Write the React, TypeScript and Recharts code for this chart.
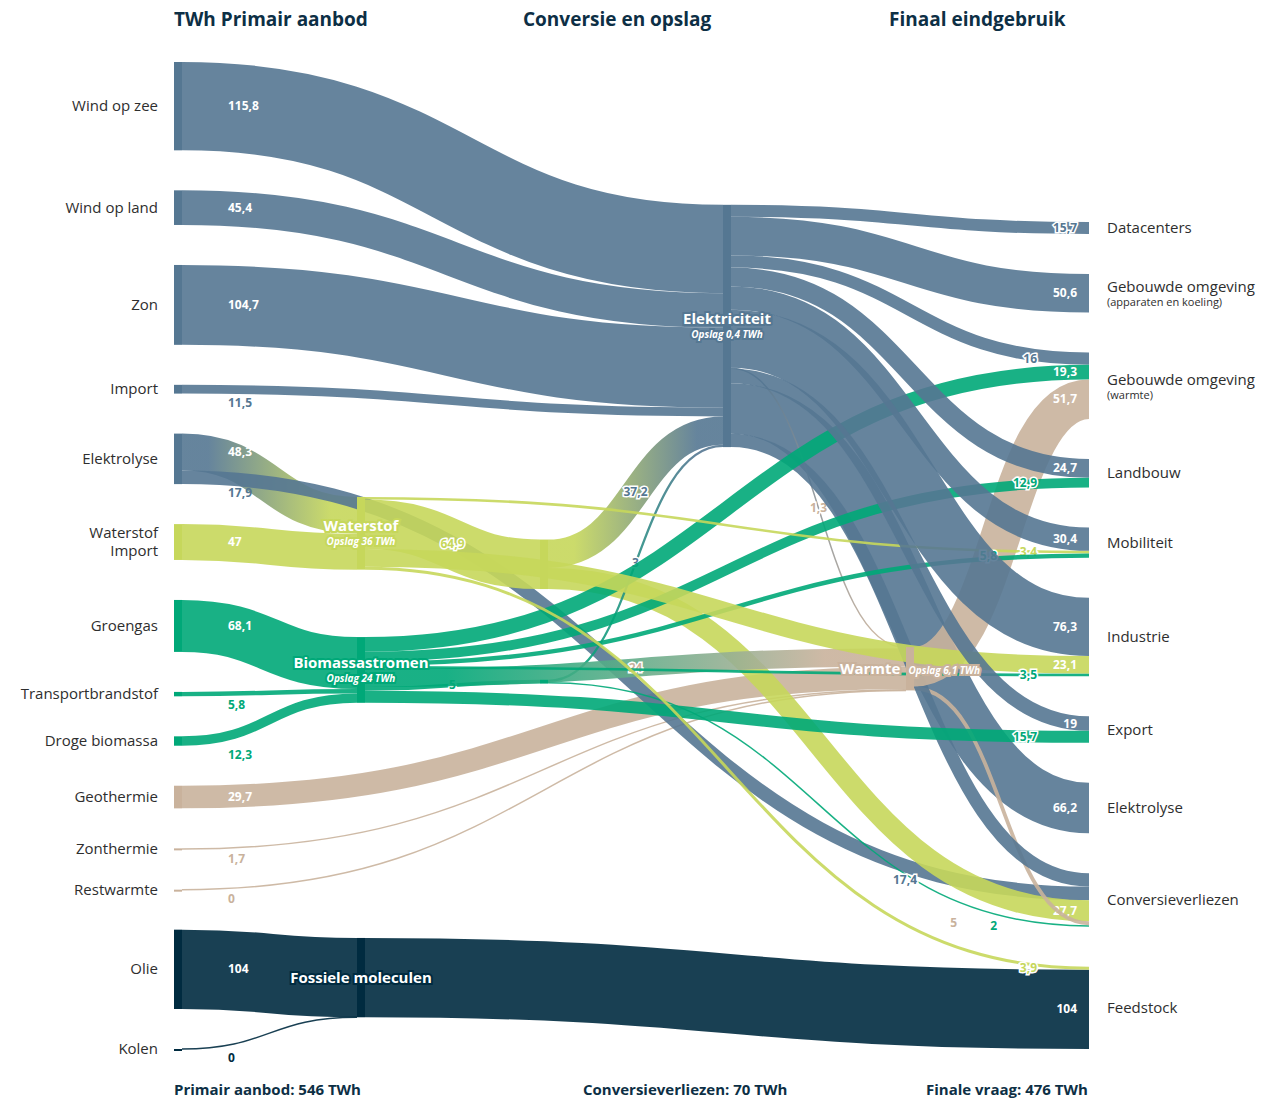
import React from "react";
import { Sankey } from "recharts";

const BLUE = "#557792";
const LIME = "#c6d75b";
const GREEN = "#00a878";
const TAN = "#c9b29c";
const NAVY = "#002b40";
const INK = "#0d2f45";
const TEXT = "#2e2e2e";
const FONT = "'Open Sans', 'DejaVu Sans', sans-serif";

// kolom 1: primair aanbod (Elektrolyse (uit) is the hydrogen side of the electrolysis loop)
const primaryNodes = [
  "Wind op zee",
  "Wind op land",
  "Zon",
  "Import",
  "Elektrolyse (uit)",
  "Waterstof\nImport",
  "Groengas",
  "Transportbrandstof",
  "Droge biomassa",
  "Geothermie",
  "Zonthermie",
  "Restwarmte",
  "Olie",
  "Kolen",
];

// kolom 2: conversie en opslag
const conversionNodes = [
  "Waterstof",
  "Biomassastromen",
  "Fossiele moleculen",
  "Waterstofcentrale",
  "Biomassacentrale",
  "Elektriciteit",
  "Warmte",
];

// kolom 3: finaal eindgebruik
const finalNodes = [
  "Datacenters",
  "Gebouwde omgeving\n(apparaten en koeling)",
  "Gebouwde omgeving\n(warmte)",
  "Landbouw",
  "Mobiliteit",
  "Industrie",
  "Export",
  "Elektrolyse (in)",
  "Conversieverliezen",
  "Feedstock",
];

const primaryFlows: [string, string, number][] = [
  ["Wind op zee", "Elektriciteit", 115.8],
  ["Wind op land", "Elektriciteit", 45.4],
  ["Zon", "Elektriciteit", 104.7],
  ["Import", "Elektriciteit", 11.5],
  ["Waterstof\nImport", "Waterstof", 47],
  ["Groengas", "Biomassastromen", 68.1],
  ["Transportbrandstof", "Biomassastromen", 5.8],
  ["Droge biomassa", "Biomassastromen", 12.3],
  ["Geothermie", "Warmte", 29.7],
  ["Zonthermie", "Warmte", 1.7],
  ["Restwarmte", "Warmte", 0],
  ["Olie", "Fossiele moleculen", 104],
  ["Kolen", "Fossiele moleculen", 0],
];

const conversionFlows: [string, string, number][] = [
  ["Elektriciteit", "Elektrolyse (in)", 66.2],
  ["Elektrolyse (uit)", "Waterstof", 48.3],
  ["Elektrolyse (uit)", "Conversieverliezen", 17.9],
  ["Waterstof", "Waterstofcentrale", 64.9],
  ["Waterstofcentrale", "Elektriciteit", 37.2],
  ["Waterstofcentrale", "Conversieverliezen", 27.7],
  ["Biomassastromen", "Biomassacentrale", 5],
  ["Biomassacentrale", "Elektriciteit", 3],
  ["Biomassacentrale", "Conversieverliezen", 2],
  ["Biomassastromen", "Warmte", 24],
  ["Elektriciteit", "Warmte", 1.3],
  ["Warmte", "Conversieverliezen", 5],
  ["Elektriciteit", "Conversieverliezen", 17.4],
];

const finalFlows: [string, string, number][] = [
  ["Elektriciteit", "Datacenters", 15.7],
  ["Elektriciteit", "Gebouwde omgeving\n(apparaten en koeling)", 50.6],
  ["Elektriciteit", "Gebouwde omgeving\n(warmte)", 16],
  ["Biomassastromen", "Gebouwde omgeving\n(warmte)", 19.3],
  ["Warmte", "Gebouwde omgeving\n(warmte)", 51.7],
  ["Elektriciteit", "Landbouw", 24.7],
  ["Biomassastromen", "Landbouw", 12.9],
  ["Waterstof", "Mobiliteit", 3.4],
  ["Elektriciteit", "Mobiliteit", 30.4],
  ["Biomassastromen", "Mobiliteit", 5.8],
  ["Elektriciteit", "Industrie", 76.3],
  ["Waterstof", "Industrie", 23.1],
  ["Biomassastromen", "Industrie", 3.5],
  ["Elektriciteit", "Export", 19],
  ["Biomassastromen", "Export", 15.7],
  ["Fossiele moleculen", "Feedstock", 104],
  ["Waterstof", "Feedstock", 3.9],
];

// opslag per drager, TWh
const storageTWh: Record<string, number> = {
  Elektriciteit: 0.4,
  Waterstof: 36,
  Biomassastromen: 24,
  Warmte: 6.1,
};

const hubNodes = ["Elektriciteit", "Waterstof", "Biomassastromen", "Warmte", "Fossiele moleculen"];

const CARRIER: Record<string, string> = {
  "Wind op zee": BLUE,
  "Wind op land": BLUE,
  Zon: BLUE,
  Import: BLUE,
  Elektriciteit: BLUE,
  "Elektrolyse (in)": BLUE,
  "Elektrolyse (uit)": BLUE,
  "Waterstof\nImport": LIME,
  Waterstof: LIME,
  Waterstofcentrale: LIME,
  Groengas: GREEN,
  Transportbrandstof: GREEN,
  "Droge biomassa": GREEN,
  Biomassastromen: GREEN,
  Biomassacentrale: GREEN,
  Geothermie: TAN,
  Zonthermie: TAN,
  Restwarmte: TAN,
  Warmte: TAN,
  Olie: NAVY,
  Kolen: NAVY,
  "Fossiele moleculen": NAVY,
};

const allNodes = [...primaryNodes, ...conversionNodes, ...finalNodes];
const toLink = ([s, t, v]: [string, string, number]) => ({
  source: allNodes.indexOf(s),
  target: allNodes.indexOf(t),
  value: v,
});
const data = {
  nodes: allNodes.map((name) => ({ name })),
  links: [...primaryFlows, ...conversionFlows, ...finalFlows].map(toLink),
};

const THICK = 14;
const fmt = (v: number) => String(Math.round(v * 10) / 10).replace(".", ",");
const labelOf = (name: string) => name.replace(/ \((in|uit)\)$/, "");
const sum = (rows: [string, string, number][]) => Math.round(rows.reduce((a, r) => a + r[2], 0));

const totalPrimary = sum(primaryFlows);
const totalLosses = sum([...conversionFlows, ...finalFlows].filter((r) => r[1] === "Conversieverliezen"));
const totalFinal = sum(finalFlows);

function FlowNode(props: any) {
  const { x, y, width, height, payload } = props;
  const name: string = payload.name;
  const color = CARRIER[name] ?? "#8d99a4";
  const lines = labelOf(name).split("\n");
  const cy = y + height / 2;

  if (primaryNodes.includes(name)) {
    return (
      <g>
        <rect x={x} y={y} width={width} height={Math.max(height, 2)} fill={color} />
        <text x={x - 16} y={cy - (lines.length - 1) * 9 + 5} textAnchor="end" fontSize={15} fill={TEXT} fontFamily={FONT}>
          {lines.map((l, i) => (
            <tspan key={i} x={x - 16} dy={i ? 18 : 0}>
              {l}
            </tspan>
          ))}
        </text>
      </g>
    );
  }

  if (finalNodes.includes(name)) {
    return (
      <g>
        <text x={x + width + 10} y={cy - (lines.length - 1) * 6 + 5} fontSize={15} fill={TEXT} fontFamily={FONT}>
          <tspan>{lines[0]}</tspan>
          {lines[1] && (
            <tspan x={x + width + 10} dy={14} fontSize={11}>
              {lines[1]}
            </tspan>
          )}
        </text>
      </g>
    );
  }

  const isHub = hubNodes.includes(name);
  const hasStore = storageTWh[name] !== undefined;
  // Warmte is a thin band: its storage note goes on the same line
  const inline = name === "Warmte";
  return (
    <g>
      <rect x={x} y={y} width={width} height={Math.max(height, 2)} fill={color} />
      {isHub && (
        <text
          x={x + width / 2}
          y={cy + (hasStore && !inline ? -2 : 5)}
          textAnchor="middle"
          fontFamily={FONT}
          fill="#fff"
          stroke={color}
          strokeWidth={4}
          paintOrder="stroke"
          fontWeight={700}
        >
          <tspan fontSize={15}>{name}</tspan>
          {hasStore &&
            (inline ? (
              <tspan dx={8} fontSize={10} fontStyle="italic">
                {`Opslag ${fmt(storageTWh[name])} TWh`}
              </tspan>
            ) : (
              <tspan x={x + width / 2} dy={14} fontSize={10} fontStyle="italic">
                {`Opslag ${fmt(storageTWh[name])} TWh`}
              </tspan>
            ))}
        </text>
      )}
    </g>
  );
}

function FlowLink(props: any) {
  const { sourceX, sourceY, sourceControlX, targetX, targetY, targetControlX, linkWidth, index, payload } = props;
  const s: string = payload.source.name;
  const t: string = payload.target.name;
  const c1 = CARRIER[s];
  const c2 = CARRIER[t];
  const blend = c2 && c2 !== c1;
  const gid = `flow-grad-${index}`;
  const d = `M${sourceX},${sourceY} C${sourceControlX},${sourceY} ${targetControlX},${targetY} ${targetX},${targetY}`;
  const thick = linkWidth >= THICK;
  const value = fmt(payload.value);
  const halo = { stroke: "#fff", strokeWidth: 3, paintOrder: "stroke" as const };

  let label: React.ReactNode;
  if (primaryNodes.includes(s)) {
    label = (
      <text
        x={sourceX + 46}
        y={thick ? sourceY + 4 : sourceY + linkWidth / 2 + 13}
        fontSize={12}
        fontWeight={700}
        fontFamily={FONT}
        fill={thick ? "#fff" : c1}
      >
        {value}
      </text>
    );
  } else if (finalNodes.includes(t)) {
    // thin bands that end in the same node get their numbers side by side
    const ky = payload.value > 0 ? linkWidth / payload.value : 0;
    const target = data.links[index].target;
    const siblings = data.links.map((l, k) => ({ ...l, k })).filter((l) => l.target === target);
    const thinSiblings = siblings.filter((l) => l.value * ky < THICK);
    const hasThick = siblings.some((l) => l.value * ky >= THICK);
    const j = Math.max(0, thinSiblings.findIndex((l) => l.k === index)) + (hasThick ? 1 : 0);
    label = (
      <text
        x={targetX - 12 - (thick ? 0 : j * 40)}
        y={targetY + 4}
        textAnchor="end"
        fontSize={12}
        fontWeight={700}
        fontFamily={FONT}
        fill={thick ? "#fff" : c1}
        {...(thick ? {} : halo)}
      >
        {value}
      </text>
    );
  } else {
    // flows between carriers: number in the middle of the band
    label = (
      <text
        x={(sourceX + targetX) / 2}
        y={(sourceY + targetY) / 2 + 4}
        textAnchor="middle"
        fontSize={12}
        fontWeight={700}
        fontFamily={FONT}
        fill={c2 ?? c1}
        {...halo}
      >
        {value}
      </text>
    );
  }

  return (
    <g>
      {blend && (
        <defs>
          <linearGradient id={gid} gradientUnits="userSpaceOnUse" x1={sourceX} y1={0} x2={targetX} y2={0}>
            <stop offset="0.15" stopColor={c1} />
            <stop offset="0.85" stopColor={c2} />
          </linearGradient>
        </defs>
      )}
      <path d={d} fill="none" stroke={blend ? `url(#${gid})` : c1} strokeWidth={Math.max(linkWidth, 1.5)} strokeOpacity={0.9} />
      {label}
    </g>
  );
}

const headStyle: React.CSSProperties = {
  position: "absolute",
  fontFamily: FONT,
  fontWeight: 700,
  color: INK,
  whiteSpace: "nowrap",
};

export default function App() {
  return (
    <div style={{ position: "absolute", left: 0, top: 0, width: 1280, height: 1099, background: "#fff" }}>
      <div style={{ ...headStyle, left: 174, top: 6, fontSize: 19 }}>TWh Primair aanbod</div>
      <div style={{ ...headStyle, left: 523, top: 6, fontSize: 19 }}>Conversie en opslag</div>
      <div style={{ ...headStyle, left: 889, top: 6, fontSize: 19 }}>Finaal eindgebruik</div>

      <Sankey
        width={1280}
        height={1099}
        data={data}
        margin={{ top: 62, right: 183, bottom: 50, left: 174 }}
        nodeWidth={8}
        nodePadding={40}
        sort={false}
        node={(p: any) => <FlowNode {...p} />}
        link={(p: any) => <FlowLink {...p} />}
      />

      <div style={{ ...headStyle, left: 174, top: 1079, fontSize: 15 }}>{`Primair aanbod: ${totalPrimary} TWh`}</div>
      <div style={{ ...headStyle, left: 583, top: 1079, fontSize: 15 }}>{`Conversieverliezen: ${totalLosses} TWh`}</div>
      <div style={{ ...headStyle, left: 926, top: 1079, fontSize: 15 }}>{`Finale vraag: ${totalFinal} TWh`}</div>
    </div>
  );
}
